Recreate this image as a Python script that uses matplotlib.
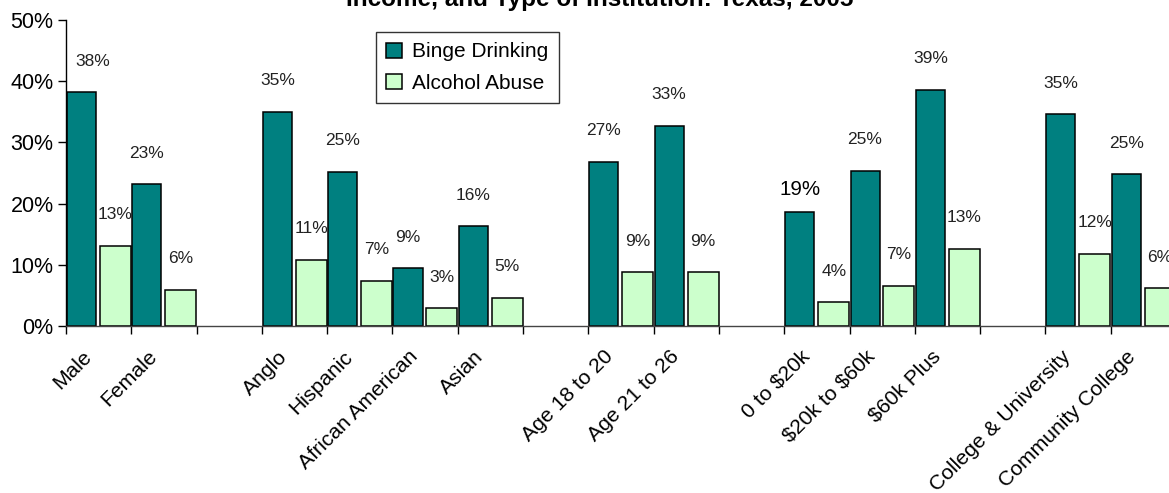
import numpy as np
import matplotlib
matplotlib.use("Agg")
from matplotlib import pyplot as plt

# categories, one list per group; an empty slot is left between groups
groups = [
    ["Male", "Female"],
    ["Anglo", "Hispanic", "African American", "Asian"],
    ["Age 18 to 20", "Age 21 to 26"],
    ["0 to $20k", "$20k to $60k", "$60k Plus"],
    ["College & University", "Community College"],
]
binge = [38.2, 23.2, 35.0, 25.2, 9.4, 16.3, 26.8, 32.7, 18.6, 25.4, 38.6, 34.6, 24.8]
abuse = [13.1, 5.9, 10.8, 7.4, 2.9, 4.6, 8.8, 8.8, 3.9, 6.6, 12.6, 11.8, 6.2]
series_names = ["Binge Drinking", "Alcohol Abuse"]
title_line = "Income, and Type of Institution: Texas, 2005"

teal = "#008080"
pale = "#CCFFCC"
plt.rcParams["font.family"] = ["Liberation Sans", "DejaVu Sans"]
plt.rcParams["text.parse_math"] = False

# slot positions
labels = []
slots = []
pos = 0
for g in groups:
    for name in g:
        labels.append(name)
        slots.append(pos)
        pos += 1
    pos += 1
nslots = pos - 1
slots = np.asarray(slots, dtype=float)

fig = plt.figure(figsize=(11.69, 4.93), dpi=100)
ax = fig.add_axes([66 / 1169, 1 - 326 / 493, 1110 / 1169, 306 / 493])

ax.bar(slots + 0.015, binge, width=0.445, align="edge", color=teal,
       edgecolor="black", linewidth=1.1, label=series_names[0])
ax.bar(slots + 0.52, abuse, width=0.475, align="edge", color=pale,
       edgecolor="black", linewidth=1.1, label=series_names[1])

for i, (x, v) in enumerate(zip(slots, binge)):
    dx = 11 if i == 0 else 0
    if i == 8:
        ax.annotate("%.0f%%" % v, (x + 0.015 + 0.2225, v), xytext=(dx, 23),
                    textcoords="offset pixels", ha="center", va="center",
                    fontsize=14.8)
    else:
        ax.annotate("%.0f%%" % v, (x + 0.015 + 0.2225, v), xytext=(dx, 31),
                    textcoords="offset pixels", ha="center", va="center",
                    fontsize=12.5, color="#222222")
for x, v in zip(slots, abuse):
    ax.annotate("%.0f%%" % v, (x + 0.52 + 0.2375, v), xytext=(0, 31),
                textcoords="offset pixels", ha="center", va="center",
                fontsize=12.5, color="#222222", annotation_clip=False)

ax.set_xlim(0, nslots)
ax.set_ylim(0, 50)
ax.set_yticks(np.arange(0, 51, 10))
ax.set_yticklabels(["%d%%" % t for t in range(0, 51, 10)], fontsize=15.5)
ax.set_xticks(np.arange(0, nslots + 1))
ax.set_xticklabels([])
for x, name in zip(slots, labels):
    ax.annotate(name, (x + 0.5, 0), xycoords=("data", "axes fraction"),
                xytext=(-17, -21), textcoords="offset pixels", rotation=45,
                ha="right", va="top", rotation_mode="anchor", fontsize=15.2,
                annotation_clip=False)
ax.tick_params(axis="x", which="major", direction="out", length=6, width=1)
ax.tick_params(axis="y", direction="out", length=6, width=1, pad=3)
for s in ["top", "right"]:
    ax.spines[s].set_visible(False)
ax.spines["left"].set_linewidth(1)
ax.spines["bottom"].set_linewidth(1)
ax.spines["bottom"].set_color("#444444")

leg = ax.legend(loc="upper left", bbox_to_anchor=(376 / 1169, 1 - 32 / 493),
                bbox_transform=fig.transFigure, fontsize=15, frameon=True,
                fancybox=False, edgecolor="black", handlelength=0.75,
                handleheight=0.75, handletextpad=0.5, borderpad=0.5,
                labelspacing=0.6, borderaxespad=0)
leg.get_frame().set_linewidth(1)

fig.text(600 / 1169, 1 - 6 / 493, title_line, ha="center", va="baseline",
         fontsize=17.5, fontweight="bold")

fig.savefig("out.png", dpi=100)
